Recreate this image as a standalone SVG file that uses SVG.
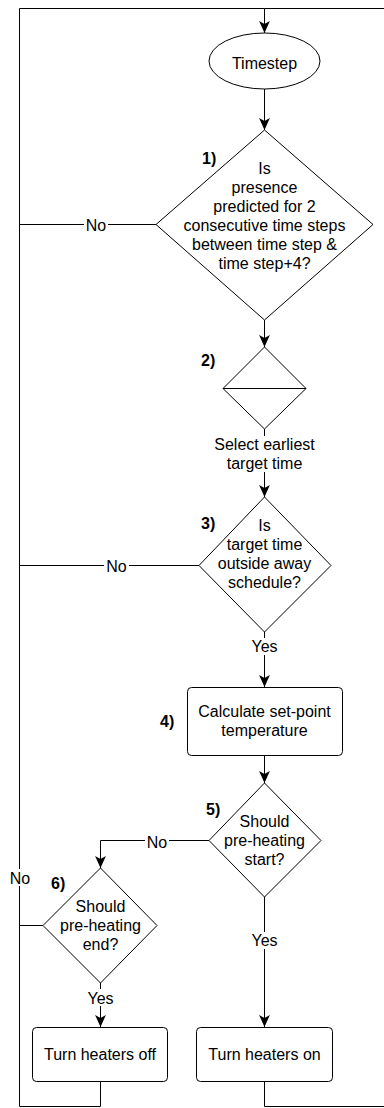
<svg xmlns="http://www.w3.org/2000/svg" width="384" height="1108" viewBox="0 0 384 1108">
  <style>
    text { font-family: "Liberation Sans", Arial, Helvetica, sans-serif; font-size: 16px; fill: #000; text-anchor: middle; }
    .num { font-weight: bold; text-anchor: start; }
    .shape { fill: #fff; stroke: #000; stroke-width: 1; }
    .edge { fill: none; stroke: #000; stroke-width: 1; }
    .bg { fill: #fff; stroke: none; }
  </style>
  <defs>
    <marker id="arrow" markerUnits="userSpaceOnUse" markerWidth="12" markerHeight="12" viewBox="0 0 10 10" refX="10" refY="5" orient="auto">
      <path d="M0,0.5 L10,5 L0,9.5 L2.5,5 Z" fill="#000"/>
    </marker>
  </defs>
  <rect width="384" height="1108" fill="#fff"/>

  <!-- connectors -->
  <g id="connectors">
    <!-- loop back from the heater boxes to the timestep -->
    <path class="edge" d="M100.5,1081 V1106.5 H19.5 V8.5 H264.5"/>
    <path class="edge" d="M264.5,1081 V1106.5 H390"/>
    <path class="edge" d="M390,8.5 H264.5 V33" marker-end="url(#arrow)"/>
    <!-- timestep to question 1 -->
    <path class="edge" d="M264.5,89 V130" marker-end="url(#arrow)"/>
    <!-- 1) No -->
    <path class="edge" d="M156,224.5 H19.5"/>
    <!-- 1) to 2) -->
    <path class="edge" d="M264.5,320 V347" marker-end="url(#arrow)"/>
    <!-- 2) to 3) -->
    <path class="edge" d="M264.5,429 V497" marker-end="url(#arrow)"/>
    <!-- 3) No -->
    <path class="edge" d="M199,565.5 H19.5"/>
    <!-- 3) Yes to 4) -->
    <path class="edge" d="M264.5,632 V687" marker-end="url(#arrow)"/>
    <!-- 4) to 5) -->
    <path class="edge" d="M264.5,755.5 V783" marker-end="url(#arrow)"/>
    <!-- 5) No to 6) -->
    <path class="edge" d="M209,840.5 H100.5 V868" marker-end="url(#arrow)"/>
    <!-- 5) Yes to heaters on -->
    <path class="edge" d="M264.5,897 V1027" marker-end="url(#arrow)"/>
    <!-- 6) No back to the loop -->
    <path class="edge" d="M43,925.5 H19.5"/>
    <!-- 6) Yes to heaters off -->
    <path class="edge" d="M100.5,983 V1027" marker-end="url(#arrow)"/>

    <!-- edge labels -->
    <rect class="bg" x="84" y="217" width="24" height="16"/>
    <text x="96" y="231">No</text>
    <rect class="bg" x="209" y="436" width="110" height="36"/>
    <text x="264.5" y="450">Select earliest</text>
    <text x="264.5" y="469">target time</text>
    <rect class="bg" x="104" y="558" width="25" height="16"/>
    <text x="116.5" y="572">No</text>
    <rect class="bg" x="250" y="638" width="29" height="17"/>
    <text x="264.5" y="651.5">Yes</text>
    <rect class="bg" x="145" y="833" width="24" height="16"/>
    <text x="157" y="847.5">No</text>
    <rect class="bg" x="250" y="932" width="29" height="17"/>
    <text x="264.5" y="946">Yes</text>
    <rect class="bg" x="8" y="869" width="24" height="17"/>
    <text x="20" y="883.5">No</text>
    <rect class="bg" x="86" y="989" width="29" height="17"/>
    <text x="100.5" y="1004">Yes</text>
  </g>

  <!-- start -->
  <g id="timestep">
    <ellipse class="shape" cx="264.5" cy="61" rx="55.5" ry="28"/>
    <text x="264.5" y="68.5">Timestep</text>
  </g>

  <!-- 1) presence check -->
  <g id="q1">
    <polygon class="shape" points="264.5,130 373,224.5 264.5,320 156,224.5"/>
    <text class="num" x="202" y="164">1)</text>
    <text x="264.5" y="174">Is</text>
    <text x="264.5" y="193">presence</text>
    <text x="264.5" y="212">predicted for 2</text>
    <text x="264.5" y="231">consecutive time steps</text>
    <text x="264.5" y="250">between time step &amp;</text>
    <text x="264.5" y="269">time step+4?</text>
  </g>

  <!-- 2) earliest target selection -->
  <g id="q2">
    <polygon class="shape" points="264.5,347 306,388.5 264.5,429 223,388.5"/>
    <line class="edge" x1="223" y1="388.5" x2="306" y2="388.5"/>
    <text class="num" x="201" y="366">2)</text>
  </g>

  <!-- 3) away schedule check -->
  <g id="q3">
    <polygon class="shape" points="264.5,497 331,565.5 264.5,632 199,565.5"/>
    <text class="num" x="201" y="529">3)</text>
    <text x="264.5" y="531">Is</text>
    <text x="264.5" y="550">target time</text>
    <text x="264.5" y="569">outside away</text>
    <text x="264.5" y="588">schedule?</text>
  </g>

  <!-- 4) set-point -->
  <g id="step4">
    <rect class="shape" x="187.5" y="687.5" width="155" height="68" rx="4"/>
    <text class="num" x="160" y="727">4)</text>
    <text x="264.5" y="717">Calculate set-point</text>
    <text x="264.5" y="736">temperature</text>
  </g>

  <!-- 5) pre-heating start -->
  <g id="q5">
    <polygon class="shape" points="264.5,783 321,840.5 264.5,897 209,840.5"/>
    <text class="num" x="206" y="815">5)</text>
    <text x="264.5" y="827">Should</text>
    <text x="264.5" y="846">pre-heating</text>
    <text x="264.5" y="865">start?</text>
  </g>

  <!-- 6) pre-heating end -->
  <g id="q6">
    <polygon class="shape" points="100.5,868 157,925.5 100.5,983 43,925.5"/>
    <text class="num" x="51" y="889">6)</text>
    <text x="100.5" y="912">Should</text>
    <text x="100.5" y="931">pre-heating</text>
    <text x="100.5" y="950">end?</text>
  </g>

  <g id="heaters-off">
    <rect class="shape" x="32.5" y="1027.5" width="135" height="54" rx="4"/>
    <text x="100" y="1059.5">Turn heaters off</text>
  </g>

  <g id="heaters-on">
    <rect class="shape" x="196.5" y="1027.5" width="136" height="54" rx="4"/>
    <text x="264.5" y="1059.5">Turn heaters on</text>
  </g>
</svg>
